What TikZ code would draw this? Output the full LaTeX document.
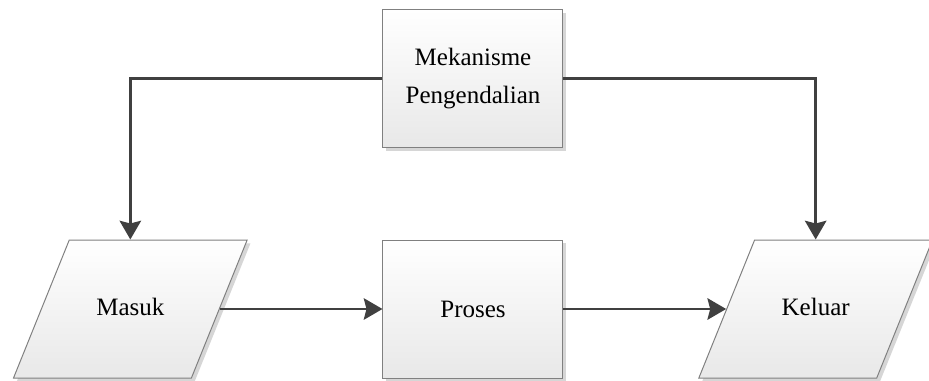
\documentclass[tikz,border=0pt]{standalone}
\usepackage{fontspec}
\setmainfont{Liberation Serif}
\usetikzlibrary{shapes.geometric, positioning, arrows.meta, shadows}
\tikzset{
    on grid,
    node distance=257pt,
    box/.style={draw=black!50, line width=0.75pt, top color=white, bottom color=black!9,
        drop shadow={shadow xshift=2.5pt, shadow yshift=-2.5pt, fill=black!20, opacity=0.8},
        font=\fontsize{18.75pt}{28.5pt}\selectfont, align=center},
    process/.style={box, rectangle, minimum width=135pt, minimum height=103.5pt},
    data/.style={box, trapezium, trapezium left angle=68, trapezium right angle=112,
        text width=60pt, text height=12pt, text depth=3pt,
        inner xsep=15.8pt, inner ysep=44.25pt},
    flow/.style={draw=black!75, line width=2.2pt, -{Stealth[length=14pt, width=16pt, inset=2pt]}},
}

\begin{document}
\begin{tikzpicture}
    \useasboundingbox (-354.75pt,-53.25pt) rectangle (342pt,231.75pt);
    \node[process] (proses) {Proses};
    \node[process, above=172.9pt of proses] (mek) {Mekanisme\\Pengendalian};
    \node[data, left=of proses] (masuk) {Masuk};
    \node[data, right=of proses] (keluar) {Keluar};

    \draw[flow] (masuk) -- (proses);
    \draw[flow] (proses) -- (keluar);
    \draw[flow] (mek) -| (masuk);
    \draw[flow] (mek) -| (keluar);
\end{tikzpicture}
\end{document}
